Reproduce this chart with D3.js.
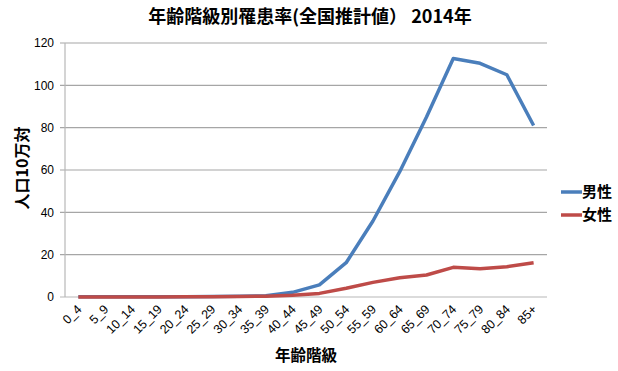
<!DOCTYPE html>
<html>
<head>
<meta charset="utf-8">
<script src="https://cdn.jsdelivr.net/npm/d3@7"></script>
<style>
  body { margin: 0; background: #fff; }
  text { font-family: "Liberation Sans", "Noto Sans CJK JP", sans-serif; }
  .jp { font-family: "Noto Sans CJK JP", sans-serif; font-weight: bold; }
</style>
</head>
<body>
<div id="chart"></div>
<script>
var ageGroups = ["0_4","5_9","10_14","15_19","20_24","25_29","30_34","35_39","40_44","45_49",
                 "50_54","55_59","60_64","65_69","70_74","75_79","80_84","85+"];
var male   = [0.1,0.1,0.1,0.1,0.1,0.2,0.3,0.6,2.2,5.7,16.2,35.9,59.2,85.0,112.7,110.4,105.0,81.0];
var female = [0.05,0.05,0.05,0.05,0.1,0.1,0.2,0.4,0.8,1.7,4.1,6.9,9.1,10.4,14.0,13.4,14.3,16.2];
var yTicks = [0,20,40,60,80,100,120];
var seriesNames = ["男性","女性"];
var seriesColors = ["#4a7ebb","#be4b48"];

var margin = { top: 43, right: 71, bottom: 74, left: 65 },
    width = 618 - margin.left - margin.right,
    height = 371 - margin.top - margin.bottom;

var root = d3.select('#chart').append('svg')
    .attr('width', 618)
    .attr('height', 371);

var svg = root.append('g')
    .attr('transform', 'translate(' + margin.left + ',' + margin.top + ')');

var x = d3.scaleBand().domain(ageGroups).range([0, width]);
var y = d3.scaleLinear().domain([0, 120]).range([height, 0]);

// gridlines
svg.selectAll('.grid')
  .data(yTicks)
  .join('line')
    .attr('x1', -5).attr('x2', width)
    .attr('y1', d => y(d)).attr('y2', d => y(d))
    .style('stroke', d => d == 0 ? '#b8b8b8' : '#a6a6a6')
    .style('stroke-width', 1.2);

svg.append('line')
    .attr('x1', 0).attr('x2', 0)
    .attr('y1', 0).attr('y2', height)
    .style('stroke', '#b8b8b8')
    .style('stroke-width', 1.2);

svg.selectAll('.ytick')
  .data(yTicks)
  .join('text')
    .attr('x', -11)
    .attr('y', d => y(d))
    .attr('dy', '0.35em')
    .attr('text-anchor', 'end')
    .style('font-size', '12px')
    .text(d => d);

svg.selectAll('.xtick')
  .data(ageGroups)
  .join('text')
    .attr('text-anchor', 'end')
    .attr('transform', d => 'translate(' + (x(d) + x.bandwidth() / 2 + 4) + ',' + (height + 13) + ') rotate(-45)')
    .style('font-size', '12.5px')
    .text(d => d);

var line = d3.line()
    .x((d, i) => x(ageGroups[i]) + x.bandwidth() / 2)
    .y(d => y(d));

[male, female].forEach(function(s, i) {
  svg.append('path')
    .datum(s)
    .attr('d', line)
    .style('fill', 'none')
    .style('stroke', seriesColors[i])
    .style('stroke-width', 3.5)
    .style('stroke-linejoin', 'round');
});

// legend
var legend = root.append('g').attr('transform', 'translate(561,192)');
seriesNames.forEach(function(n, i) {
  legend.append('line')
    .attr('x1', 0).attr('x2', 21)
    .attr('y1', i * 23).attr('y2', i * 23)
    .style('stroke', seriesColors[i])
    .style('stroke-width', 3.5);
  legend.append('text')
    .attr('class', 'jp')
    .attr('x', 21).attr('y', i * 23)
    .attr('dy', '0.35em')
    .style('font-size', '15px')
    .text(n);
});

root.append('text')
    .attr('class', 'jp')
    .attr('x', 310).attr('y', 23)
    .attr('text-anchor', 'middle')
    .style('font-size', '18px')
    .text('年齢階級別罹患率(全国推計値）  2014年');

root.append('text')
    .attr('class', 'jp')
    .attr('x', 306).attr('y', 361)
    .attr('text-anchor', 'middle')
    .style('font-size', '15.5px')
    .text('年齢階級');

root.append('text')
    .attr('class', 'jp')
    .attr('transform', 'translate(28,168) rotate(-90)')
    .attr('text-anchor', 'middle')
    .style('font-size', '16px')
    .text('人口10万対');
</script>
</body>
</html>
